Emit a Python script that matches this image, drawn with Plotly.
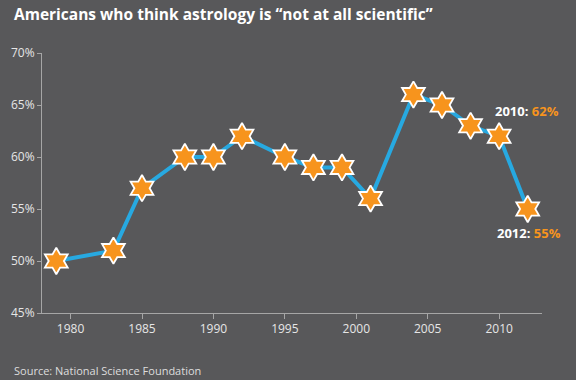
import plotly.graph_objects as go

years = [1979, 1983, 1985, 1988, 1990, 1992, 1995, 1997, 1999, 2001, 2004, 2006, 2008, 2010, 2012]
pct = [50, 51, 57, 60, 60, 62, 60, 59, 59, 56, 66, 65, 63, 62, 55]
x_ticks = [1980, 1985, 1990, 1995, 2000, 2005, 2010]
y_ticks = [45, 50, 55, 60, 65, 70]
y_labels = ["45%", "50%", "55%", "60%", "65%", "70%"]

BG = "#58585a"
AXIS = "#a6a6a6"
TXT = "#e6e6e6"
ORANGE = "#f7941d"
BLUE = "#27a9e1"
FONT = "Open Sans"

fig = go.Figure()
fig.add_trace(go.Scatter(
    x=years, y=pct, mode="lines+markers",
    line=dict(color=BLUE, width=4),
    marker=dict(symbol="hexagram", size=20, color=ORANGE,
                line=dict(color="white", width=1.8)),
    hoverinfo="x+y",
))

fig.add_annotation(x=years[-2], y=pct[-2], xref="x", yref="y",
                   text=f"<b>{years[-2]}:</b> <span style='color:{ORANGE}'><b>{pct[-2]}%</b></span>",
                   showarrow=False, xanchor="left", yanchor="middle",
                   xshift=-6, yshift=25,
                   font=dict(family=FONT, size=13, color="white"))
fig.add_annotation(x=years[-1], y=pct[-1], xref="x", yref="y",
                   text=f"<b>{years[-1]}:</b> <span style='color:{ORANGE}'><b>{pct[-1]}%</b></span>",
                   showarrow=False, xanchor="center", yanchor="middle",
                   xshift=1, yshift=-24,
                   font=dict(family=FONT, size=13, color="white"))

fig.add_annotation(text="<b>Americans who think astrology is \u201cnot at all scientific\u201d</b>",
                   xref="paper", yref="paper", x=-30/500, y=1 + 39/260,
                   xanchor="left", yanchor="middle", showarrow=False,
                   font=dict(family=FONT, size=15.5, color="white"))
fig.add_annotation(text="Source: National Science Foundation",
                   xref="paper", yref="paper", x=-30/500, y=-57/260,
                   xanchor="left", yanchor="middle", showarrow=False,
                   font=dict(family=FONT, size=11, color="#dddddd"))

fig.update_layout(
    width=576, height=380,
    paper_bgcolor=BG, plot_bgcolor=BG,
    margin=dict(l=42, r=34, t=53, b=67),
    showlegend=False,
    xaxis=dict(range=[1978, 2013], tickvals=x_ticks, showgrid=False, zeroline=False,
               showline=True, linecolor=AXIS, linewidth=1,
               ticks="outside", ticklen=5, tickcolor=AXIS, tickwidth=1,
               tickfont=dict(family=FONT, size=12, color=TXT)),
    yaxis=dict(range=[45, 70], tickvals=y_ticks, ticktext=y_labels, showgrid=False,
               zeroline=False, showline=True, linecolor=AXIS, linewidth=1,
               ticks="outside", ticklen=4, tickcolor=AXIS, tickwidth=1,
               tickfont=dict(family=FONT, size=12, color=TXT)),
)

fig.write_html("out.html", config={"displayModeBar": False},
               post_script="document.body.style.margin='0';document.body.style.background='#58585a';")
